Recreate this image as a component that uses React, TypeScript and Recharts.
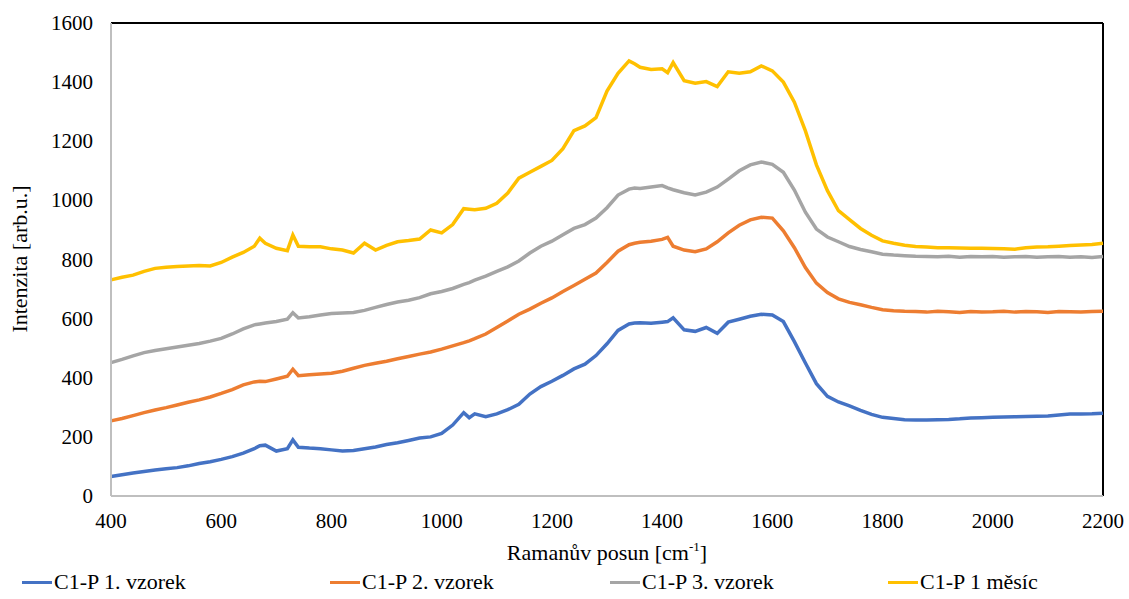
import React from "react";
import { LineChart, Line, XAxis, YAxis, ReferenceLine } from "recharts";

// Raman shift [cm-1]
const shift = [
  400, 420, 440, 460, 480, 500, 520, 540, 560, 580, 600, 620, 640, 660, 670, 680, 700, 720, 730, 740,
  760, 780, 800, 820, 840, 860, 880, 900, 920, 940, 960, 980, 1000, 1020, 1040, 1050, 1060,
  1080, 1100, 1120, 1140, 1160, 1180, 1200, 1220, 1240, 1260, 1280, 1300, 1320, 1340,
  1350, 1360, 1380, 1400, 1410, 1420,
  1440, 1460, 1480, 1500, 1520, 1540, 1560, 1580, 1600, 1620, 1640, 1660, 1680, 1700, 1720, 1740,
  1760, 1780, 1800, 1820, 1840, 1860, 1880, 1900, 1920, 1940, 1960, 1980, 2000, 2020, 2040, 2060,
  2080, 2100, 2120, 2140, 2160, 2180, 2200,
];

const vzorek1 = [
  66, 72, 78, 83, 88, 92, 96, 102, 110, 116, 124, 133, 145, 160, 170, 172, 152, 160, 190, 165,
  162, 160, 156, 152, 154, 160, 166, 174, 180, 188, 196, 200, 212, 240, 282, 265, 278,
  268, 278, 292, 310, 345, 370, 388, 408, 430, 446, 475, 515, 560, 582,
  585, 586, 584, 588, 590, 603,
  562, 557, 570, 550, 588, 598, 608, 615, 612, 590, 522, 450, 380, 337, 318, 305,
  290, 276, 266, 262, 258, 257, 257, 258, 259, 261, 264, 265, 266, 267, 268, 269,
  270, 271, 274, 277, 277, 278, 280,
];

const vzorek2 = [
  254, 262, 272, 282, 291, 299, 308, 317, 325, 335, 347, 360, 376, 386, 388, 387, 396, 405, 429, 407,
  410, 413, 415, 422, 432, 442, 449, 456, 464, 472, 480, 487, 497, 508, 519, 525, 532,
  548, 570, 592, 615, 632, 652, 670, 692, 712, 733, 754, 790, 828, 850,
  855, 858, 862, 868, 875, 845,
  832, 826, 836, 860, 890, 916, 934, 943, 940, 897, 840, 773, 720, 688, 667, 655,
  647, 638, 630, 627, 625, 624, 622, 625, 623, 621, 624, 622, 623, 625, 622, 624,
  623, 621, 624, 623, 622, 624, 625,
];

const vzorek3 = [
  451, 462, 474, 485, 492, 498, 504, 510, 516, 524, 533, 548, 565, 579, 582, 585, 590, 598, 620, 602,
  606, 612, 617, 619, 621, 628, 638, 648, 656, 662, 671, 684, 692, 702, 716, 722, 730,
  744, 760, 775, 795, 822, 845, 862, 884, 905, 918, 940, 975, 1018, 1038,
  1042, 1040, 1045, 1050, 1042, 1036,
  1026, 1018, 1028, 1045, 1072, 1100, 1120, 1130, 1122, 1095, 1035, 960, 903, 876, 860, 844,
  834, 826, 818, 815, 813, 811, 810, 809, 811, 808, 810, 809, 810, 808, 809, 810,
  808, 809, 810, 808, 809, 807, 810,
];

const mesic1 = [
  731, 740, 747, 760, 770, 774, 776, 778, 780, 778, 790, 808, 824, 845, 872, 855, 838, 830, 883, 845,
  843, 843, 836, 832, 822, 855, 832, 848, 860, 864, 869, 900, 890, 918, 972, 970, 968,
  973, 990, 1025, 1075, 1095, 1115, 1135, 1175, 1236, 1252, 1280, 1370, 1430, 1472,
  1462, 1450, 1443, 1445, 1432, 1466,
  1405, 1396, 1402, 1385, 1435, 1430, 1435, 1455, 1438, 1400, 1332, 1235, 1120, 1033, 965, 935,
  905, 882, 863, 855, 848, 844, 842, 840, 840, 839, 838, 838, 837, 836, 835, 840,
  842, 843, 845, 847, 849, 851, 855,
];

const xTicks = [400, 600, 800, 1000, 1200, 1400, 1600, 1800, 2000, 2200];
const yTicks = [0, 200, 400, 600, 800, 1000, 1200, 1400, 1600];

const series = [
  { key: "v1", name: "C1-P 1. vzorek", color: "#4472C4", values: vzorek1 },
  { key: "v2", name: "C1-P 2. vzorek", color: "#ED7D31", values: vzorek2 },
  { key: "v3", name: "C1-P 3. vzorek", color: "#A5A5A5", values: vzorek3 },
  { key: "m1", name: "C1-P 1 měsíc", color: "#FFC000", values: mesic1 },
];

const rows = shift.map((x, i) => {
  const row: Record<string, number> = { x };
  series.forEach((s) => {
    row[s.key] = s.values[i];
  });
  return row;
});

const font =
  '"Liberation Serif", "Times New Roman", Tinos, "DejaVu Serif", "Noto Serif", FreeSerif, serif';

function XTick(props: any) {
  const { x, y, payload } = props;
  return (
    <text x={x} y={y + 20} textAnchor="middle" fontSize={21} fill="#000" style={{ fontFamily: font }}>
      {payload.value}
    </text>
  );
}

function YTick(props: any) {
  const { x, y, payload } = props;
  return (
    <text x={x} y={y + 7} textAnchor="end" fontSize={21} fill="#000" style={{ fontFamily: font }}>
      {payload.value}
    </text>
  );
}

function XTitle(props: any) {
  const vb = props.viewBox || {};
  return (
    <text
      x={vb.x + vb.width / 2}
      y={vb.y + 64}
      textAnchor="middle"
      fontSize={22}
      fill="#000"
      style={{ fontFamily: font }}
    >
      Ramanův posun [cm
      <tspan fontSize={13} dy={-9}>
        -1
      </tspan>
      <tspan dy={9}>]</tspan>
    </text>
  );
}

function YTitle() {
  return (
    <text
      x={22}
      y={259}
      transform="rotate(-90 22 259)"
      textAnchor="middle"
      dominantBaseline="middle"
      fontSize={22}
      fill="#000"
      style={{ fontFamily: font }}
    >
      Intenzita [arb.u.]
    </text>
  );
}

const legendX = [22, 330, 610, 888];

export default function App() {
  return (
    <div
      style={{
        position: "fixed",
        left: 0,
        top: 0,
        width: 1129,
        height: 599,
        background: "#fff",
        fontFamily: font,
      }}
    >
      <LineChart
        width={1129}
        height={599}
        data={rows}
        margin={{ top: 23, right: 26, bottom: 73, left: 0 }}
      >
        <XAxis
          dataKey="x"
          type="number"
          domain={[400, 2200]}
          ticks={xTicks}
          tickSize={0}
          tickMargin={12}
          tick={<XTick />}
          axisLine={{ stroke: "#bfbfbf", strokeWidth: 2 }}
          height={30}
          label={<XTitle />}
        />
        <YAxis
          domain={[0, 1600]}
          ticks={yTicks}
          tickSize={0}
          tickMargin={18}
          tick={<YTick />}
          axisLine={{ stroke: "#bfbfbf", strokeWidth: 2 }}
          width={111}
          label={<YTitle />}
        />
        <ReferenceLine y={1600} stroke="#000" strokeWidth={2} />
        <ReferenceLine x={2200} stroke="#000" strokeWidth={2} />
        {series.map((s) => (
          <Line
            key={s.key}
            dataKey={s.key}
            name={s.name}
            stroke={s.color}
            strokeWidth={3.5}
            dot={false}
            type="linear"
            isAnimationActive={false}
          />
        ))}
      </LineChart>
      {series.map((s, i) => (
        <div
          key={s.key}
          style={{
            position: "absolute",
            left: legendX[i],
            top: 569,
            display: "flex",
            alignItems: "center",
            fontSize: 22,
            whiteSpace: "nowrap",
          }}
        >
          <span
            style={{
              display: "inline-block",
              width: 30,
              height: 3,
              background: s.color,
              marginRight: 2,
            }}
          />
          {s.name}
        </div>
      ))}
    </div>
  );
}
